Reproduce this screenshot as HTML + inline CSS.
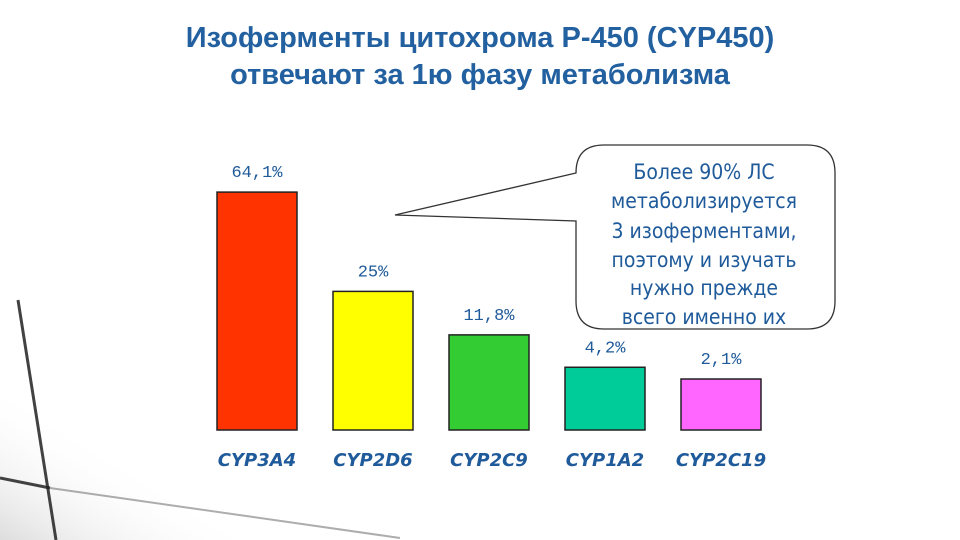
<!DOCTYPE html>
<html><head><meta charset="utf-8"><style>
html,body{margin:0;padding:0;background:#fff}
svg{display:block}
</style></head><body>
<svg width="960" height="540" viewBox="0 0 960 540" xmlns="http://www.w3.org/2000/svg">
<defs>
<linearGradient id="fade" x1="0" y1="1" x2="1" y2="0"><stop offset="0" stop-color="#ddd"/><stop offset="0.5" stop-color="#fff" stop-opacity="0"/></linearGradient>
</defs>
<rect x="0" y="0" width="960" height="540" fill="#fff"/>
<polygon points="0,380 0,540 260,540" fill="url(#fade)"/>
<line x1="18" y1="300" x2="56" y2="540" stroke="#222" stroke-width="3" opacity="0.85"/>
<line x1="0" y1="478" x2="50" y2="488" stroke="#222" stroke-width="3" opacity="0.85"/>
<line x1="50" y1="488" x2="400" y2="538" stroke="#777" stroke-width="2" opacity="0.6"/>
<text x="480" y="47" text-anchor="middle" font-family="Liberation Sans, DejaVu Sans, sans-serif" font-size="29" font-weight="bold" fill="#22609f">Изоферменты цитохрома Р-450 (CYP450)</text>
<text x="480" y="84" text-anchor="middle" font-family="Liberation Sans, DejaVu Sans, sans-serif" font-size="29" font-weight="bold" fill="#22609f">отвечают за 1ю фазу метаболизма</text>
<g id="bars"></g>
<g>
<path d="M604,145 H807 Q835,145 835,173 V301 Q835,329 807,329 H604 Q576,329 576,301 V221 L395,215 L576,173 Q576,145 604,145 Z" fill="#fff" stroke="#333" stroke-width="1.3"/>
<g font-family="DejaVu Sans Condensed, DejaVu Sans, sans-serif" font-size="21" fill="#1f5a9a" text-anchor="middle">
<text x="704" y="179">Более 90% ЛС</text>
<text x="704" y="208">метаболизируется</text>
<text x="704" y="238">3 изоферментами,</text>
<text x="704" y="267">поэтому и изучать</text>
<text x="704" y="295">нужно прежде</text>
<text x="704" y="324">всего именно их</text>
</g>
</g>
</svg>
<script>
const categories=["CYP3A4","CYP2D6","CYP2C9","CYP1A2","CYP2C19"];
const values=[64.1,25,11.8,4.2,2.1];
const valueLabels=["64,1%","25%","11,8%","4,2%","2,1%"];
const colors=["#ff3300","#ffff00","#33cc33","#00cc99","#ff66ff"];
const NS="http://www.w3.org/2000/svg";
const g=document.getElementById('bars');
const baseY=430, barW=80;
function xCenter(i){return 257+i*116;}
function yScale(v){return baseY-(32.2+11.18*Math.pow(v,0.7));}
categories.forEach((c,i)=>{
  const cx=xCenter(i), x=cx-barW/2, y=yScale(values[i]);
  const r=document.createElementNS(NS,'rect');
  r.setAttribute('x',x);r.setAttribute('y',y);r.setAttribute('width',barW);r.setAttribute('height',baseY-y);
  r.setAttribute('fill',colors[i]);r.setAttribute('stroke','#222');r.setAttribute('stroke-width','1.5');
  
  
  g.appendChild(r);
  const t=document.createElementNS(NS,'text');
  t.setAttribute('x',cx);t.setAttribute('y',y-15);t.setAttribute('text-anchor','middle');
  t.setAttribute('font-family','Liberation Mono, DejaVu Sans Mono, monospace');t.setAttribute('font-size','17');t.setAttribute('fill','#1f5a9a');
  t.textContent=valueLabels[i];
  
  
  g.appendChild(t);
  const l=document.createElementNS(NS,'text');
  l.setAttribute('x',cx);l.setAttribute('y',466);l.setAttribute('text-anchor','middle');
  l.setAttribute('font-family','DejaVu Sans, sans-serif');l.setAttribute('font-size','18');l.setAttribute('font-style','italic');l.setAttribute('font-weight','bold');l.setAttribute('fill','#1f5a9a');
  l.textContent=c;
  
  
  g.appendChild(l);
});
</script>
</body></html>
